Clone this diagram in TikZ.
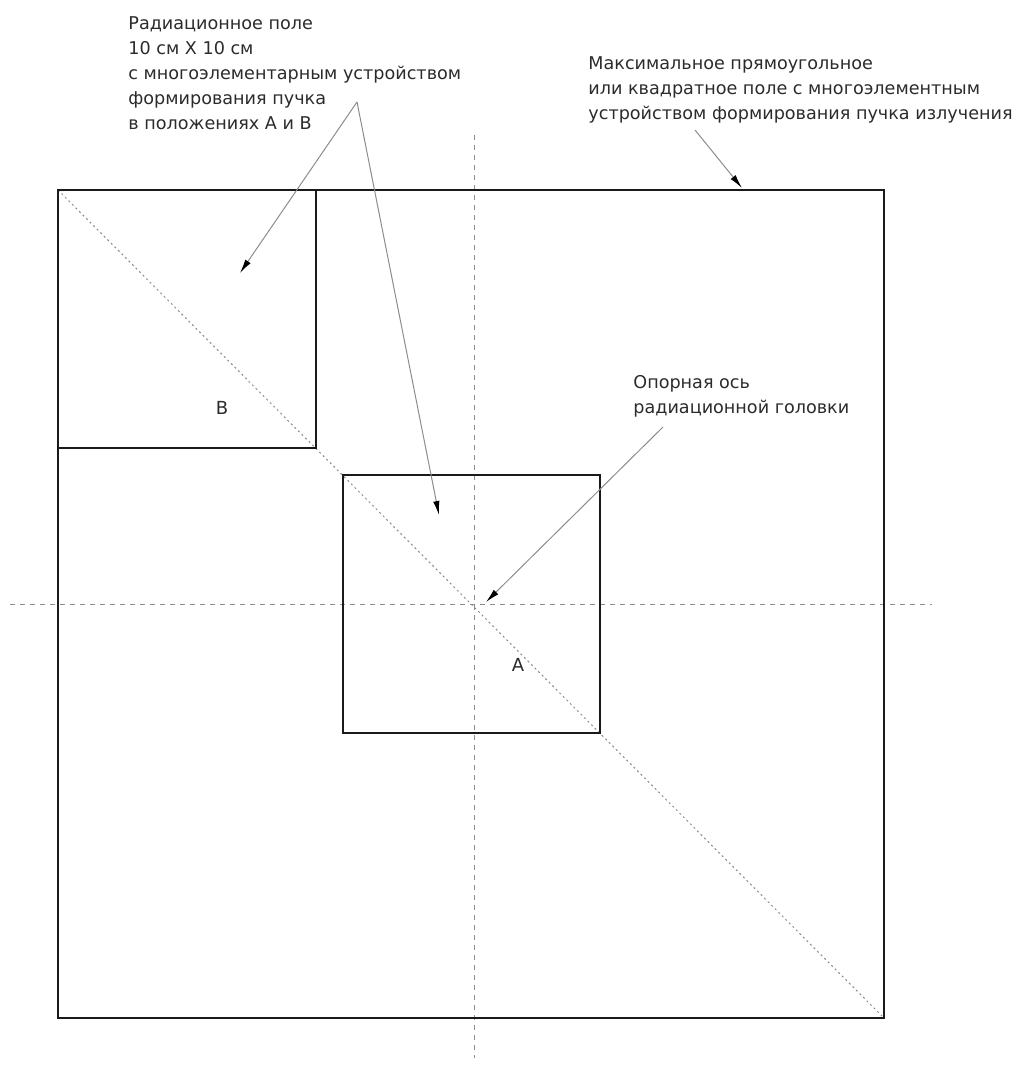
\documentclass[tikz,border=0pt]{standalone}
\usepackage{fontspec}
\setmainfont{DejaVu Sans}
\usepackage{xcolor}
\definecolor{cLine}{HTML}{1A1A1A}
\definecolor{cGuide}{HTML}{8C8C8C}
\definecolor{cText}{HTML}{2B2B2B}
\usetikzlibrary{arrows.meta}
\tikzset{
  field-box/.style={draw=cLine,line width=1.2pt},
  guide-axis/.style={draw=cGuide,line width=0.5pt,dash pattern=on 2.5pt off 2.5pt},
  guide-diag/.style={draw=cGuide,line width=0.5pt,dash pattern=on 1pt off 1.5pt},
  arrow/.style={-{Latex[length=7pt,width=3.2pt,color=black]},draw=cGuide,line width=0.5pt},
  note/.style={anchor=north west,inner sep=0pt,align=left,
    font=\fontsize{8.8}{12.5}\selectfont,text=cText},
  pos-label/.style={inner sep=0pt,font=\fontsize{9}{10}\selectfont,text=cText},
}

\begin{document}
\begin{tikzpicture}[x=0.5pt,y=-0.5pt]
  \useasboundingbox (0,0) rectangle (1017,1070);
  % оси и диагональ
  \coordinate (O) at (474,604);
  \draw[guide-axis] (10,604) -- (932,604);
  \draw[guide-axis] (474,135) -- (474,1058);
  \draw[guide-diag] (58,190) -- (884,1018);
  % поля
  \draw[field-box] (58,190) rectangle (884,1018);
  \draw[field-box] (58,190) rectangle (316,448);
  \draw[field-box] (343,475) rectangle (600,733);
  \node[pos-label] (posB) at (222,408) {B};
  \node[pos-label] (posA) at (518,665) {A};
  % подписи
  \node[note] (lbl-field) at (128,16) {Радиационное поле\\10 см X 10 см\\
    с многоэлементарным устройством\\формирования пучка\\в положениях A и B};
  \node[note] (lbl-max) at (588,56) {Максимальное прямоугольное\\
    или квадратное поле с многоэлементным\\устройством формирования пучка излучения};
  \node[note] (lbl-axis) at (633,375) {Опорная ось\\радиационной головки};
  % стрелки
  \coordinate (split) at (357,102);
  \coordinate (tipB) at (240,273);
  \coordinate (tipA) at (439,515);
  \draw[arrow] (split) -- (tipB);
  \draw[arrow] (split) -- (tipA);
  \coordinate (maxStart) at (695,130);
  \coordinate (maxTip) at (742,188);
  \draw[arrow] (maxStart) -- (maxTip);
  \coordinate (axisStart) at (663,427);
  \coordinate (axisTip) at (486,602);
  \draw[arrow] (axisStart) -- (axisTip);
\end{tikzpicture}
\end{document}
